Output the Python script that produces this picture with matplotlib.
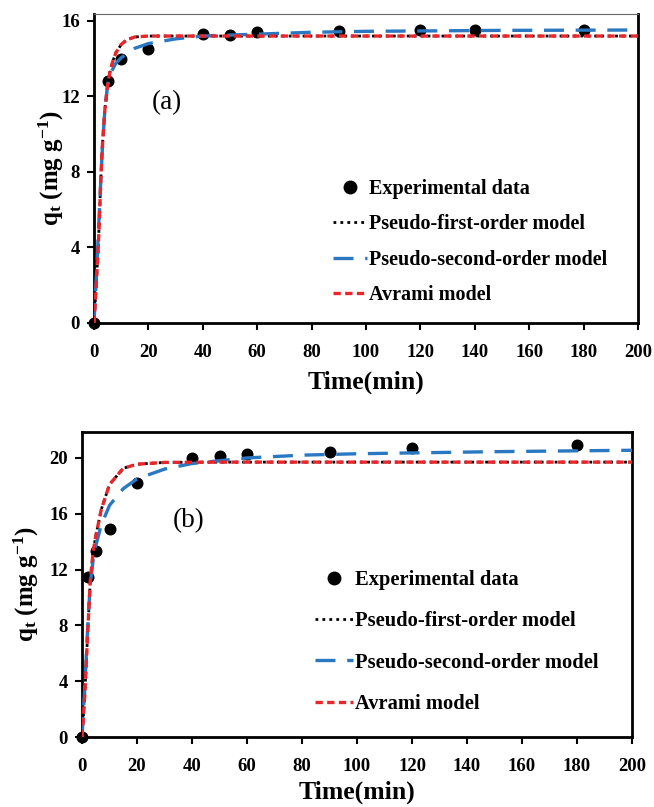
import matplotlib
matplotlib.use('Agg')
import matplotlib.pyplot as plt
from matplotlib.lines import Line2D

plt.rcParams['font.family'] = ['Liberation Serif', 'DejaVu Serif']
plt.rcParams['mathtext.fontset'] = 'custom'
plt.rcParams['mathtext.rm'] = 'Liberation Serif:bold'
plt.rcParams['mathtext.it'] = 'Liberation Serif:bold'
plt.rcParams['mathtext.bf'] = 'Liberation Serif:bold'

# ---- panel (a) ----
t_exp_a = [0, 5, 10, 20, 40, 50, 60, 90, 120, 140, 180]
q_exp_a = [0, 12.8, 14.0, 14.5, 15.3, 15.25, 15.4, 15.45, 15.5, 15.5, 15.5]

t_pfo_a = [0, 0.5, 1, 1.5, 2, 2.5, 3, 4, 5, 6, 7, 8, 10, 12, 15, 20, 30, 50, 100, 200]
q_pfo_a = [0, 1.2, 2.5, 3.8, 5.5, 7.6, 9.2, 11.3, 12.6, 13.4, 13.9, 14.3, 14.75, 15.0, 15.15, 15.2, 15.2, 15.2, 15.2, 15.2]

t_pso_a = [0, 1, 2, 3, 4, 5, 6, 8, 10, 15, 20, 30, 40, 60, 80, 100, 150, 200]
q_pso_a = [0, 2.8, 6.0, 9.0, 11.3, 12.6, 13.2, 13.75, 14.05, 14.55, 14.8, 15.05, 15.2, 15.3, 15.4, 15.45, 15.5, 15.52]

t_avr_a = [0, 0.5, 1, 1.5, 2, 2.5, 3, 4, 5, 6, 7, 8, 10, 12, 15, 20, 30, 50, 100, 200]
q_avr_a = [0, 1.2, 2.5, 3.8, 5.5, 7.6, 9.2, 11.3, 12.6, 13.4, 13.9, 14.3, 14.75, 15.0, 15.15, 15.2, 15.2, 15.2, 15.2, 15.2]

# ---- panel (b) ----
t_exp_b = [0, 2, 5, 10, 20, 40, 50, 60, 90, 120, 180]
q_exp_b = [0, 11.5, 13.3, 14.9, 18.2, 20.0, 20.15, 20.3, 20.4, 20.7, 20.9]

t_pfo_b = [0, 1, 2, 3, 4, 5, 7, 10, 15, 20, 30, 50, 100, 200]
q_pfo_b = [0, 3.0, 7.2, 11.2, 13.2, 14.4, 16.3, 18.1, 19.26, 19.55, 19.68, 19.7, 19.7, 19.7]

t_pso_b = [0, 1, 2, 3, 4, 5, 7, 10, 15, 20, 30, 40, 60, 80, 100, 150, 200]
q_pso_b = [0, 3.6, 7.6, 11.0, 12.6, 13.7, 15.2, 16.6, 17.8, 18.5, 19.2, 19.6, 20.0, 20.2, 20.3, 20.45, 20.55]

t_avr_b = [0, 1, 2, 3, 4, 5, 7, 10, 15, 20, 30, 50, 100, 200]
q_avr_b = [0, 3.0, 7.2, 11.2, 13.2, 14.4, 16.3, 18.1, 19.26, 19.55, 19.68, 19.7, 19.7, 19.7]

x_ticks = list(range(0, 201, 20))
y_ticks_a = [0, 4, 8, 12, 16]
y_ticks_b = [0, 4, 8, 12, 16, 20]

labels = ['Experimental data', 'Pseudo-first-order model',
          'Pseudo-second-order model', 'Avrami model']

red = '#e8262c'
blue = '#2a78c2'

fig = plt.figure(figsize=(6.54, 8.07), dpi=100)
ax_a = fig.add_axes([0.1437, 0.5998, 0.8318, 0.3829])
ax_b = fig.add_axes([0.1254, 0.0867, 0.8410, 0.3780])


def draw(ax, te, qe, t1, q1, t2, q2, t3, q3, yt, ytop, tag, tagxy,
         leg_xy, leg_fs, leg_sp, leg_hl, ylab_x, xpad):
    ax.scatter(te, qe, s=58, color='black', zorder=2, clip_on=False)
    ax.plot(t1, q1, color='black', lw=2.0, ls=(0, (1, 1.5)), zorder=3)
    ax.plot(t2, q2, color=blue, lw=2.4, ls=(0, (6, 3.5)), zorder=4)
    ax.plot(t3, q3, color=red, lw=2.4, ls=(0, (2.2, 1.3)), zorder=5)
    ax.set_xlim(0, 200)
    ax.set_ylim(0, ytop)
    ax.set_xticks(x_ticks)
    ax.set_yticks(yt)
    ax.tick_params(direction='out', length=5, width=1.5, labelsize=13.5, pad=5)
    ax.tick_params(axis='x', pad=10)
    for lab in ax.get_xticklabels() + ax.get_yticklabels():
        lab.set_fontweight('bold')
    for s in ['left', 'bottom', 'right']:
        ax.spines[s].set_linewidth(2)
    ax.set_xlabel('Time(min)', fontsize=18.5, fontweight='bold', labelpad=xpad)
    ax.set_ylabel(r'q$_\mathrm{t}$ (mg g$^{\mathrm{-1}}$)', fontsize=18, fontweight='bold')
    ax.yaxis.set_label_coords(ylab_x, 0.5)
    ax.text(tagxy[0], tagxy[1], tag, transform=ax.transAxes, fontsize=19.5,
            ha='center', va='center')
    handles = [
        Line2D([], [], ls='none', marker='o', ms=9, color='black'),
        Line2D([], [], color='black', lw=2.0, ls=(0, (1, 1.5))),
        Line2D([], [], color=blue, lw=2.4, ls=(0, (6, 3.5))),
        Line2D([], [], color=red, lw=2.4, ls=(0, (2.2, 1.3))),
    ]
    leg = ax.legend(handles, labels, loc='center left', bbox_to_anchor=leg_xy,
                    frameon=False, fontsize=leg_fs, handlelength=leg_hl, handletextpad=0.12,
                    labelspacing=leg_sp, borderpad=0, borderaxespad=0)
    for txt in leg.get_texts():
        txt.set_fontweight('bold')


draw(ax_a, t_exp_a, q_exp_a, t_pfo_a, q_pfo_a, t_pso_a, q_pso_a, t_avr_a, q_avr_a,
     y_ticks_a, 16.37, '(a)', (0.134, 0.714), (0.439, 0.262), 14.5, 0.75, 1.7, -0.052, 7)
ax_a.spines['top'].set_linewidth(0.8)
ax_a.spines['top'].set_color('#666666')

draw(ax_b, t_exp_b, q_exp_b, t_pfo_b, q_pfo_b, t_pso_b, q_pso_b, t_avr_b, q_avr_b,
     y_ticks_b, 21.86, '(b)', (0.193, 0.708), (0.424, 0.312), 14.8, 1.04, 1.83, -0.074, 4)
ax_b.spines['top'].set_linewidth(2)

fig.savefig('out.png', dpi=100)
